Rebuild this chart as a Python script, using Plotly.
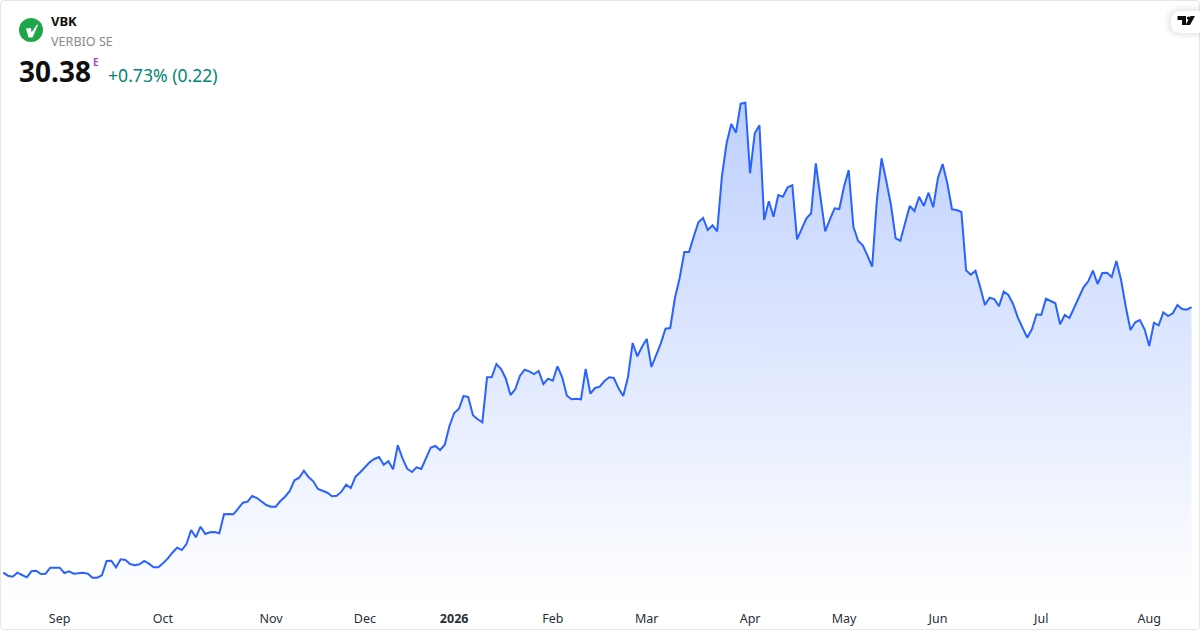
import plotly.graph_objects as go

# closing prices, one per trading day
prices = [
    3.83, 3.53, 3.43, 3.83, 3.60, 3.37, 3.97, 4.03, 3.70, 3.73, 4.33, 4.30, 4.33, 3.80, 3.97, 3.73, 3.80, 3.83, 3.73, 3.33,
    3.33, 3.57, 5.00, 5.03, 4.37, 5.17, 5.10, 4.70, 4.57, 4.67, 5.00, 4.73, 4.37, 4.37, 4.77, 5.23, 5.83, 6.33, 6.10, 6.70,
    8.10, 7.37, 8.43, 7.70, 7.87, 7.90, 7.77, 9.67, 9.70, 9.67, 10.23, 10.83, 10.93, 11.50, 11.30, 10.97, 10.60, 10.43, 10.43, 11.00,
    11.43, 12.00, 13.07, 13.33, 14.03, 13.40, 12.97, 12.20, 12.00, 11.83, 11.47, 11.53, 11.93, 12.63, 12.30, 13.43, 13.87, 14.33, 14.87, 15.20,
    15.40, 14.63, 14.97, 14.17, 16.57, 15.27, 14.23, 13.90, 14.37, 14.20, 15.30, 16.33, 16.50, 16.10, 16.63, 18.50, 19.80, 20.20, 21.50, 21.40,
    19.57, 19.17, 18.87, 23.37, 23.40, 24.70, 24.20, 23.23, 21.60, 22.17, 23.50, 24.13, 23.97, 23.70, 24.00, 22.70, 23.23, 23.03, 24.47, 23.37,
    21.53, 21.17, 21.23, 21.17, 24.20, 21.73, 22.30, 22.43, 23.00, 23.37, 23.30, 22.27, 21.50, 23.37, 26.80, 25.47, 26.43, 27.20, 24.40, 25.53,
    26.77, 28.23, 28.30, 31.30, 33.27, 35.90, 35.90, 37.43, 38.87, 39.30, 38.10, 38.57, 37.97, 43.43, 46.77, 48.70, 47.83, 50.73, 50.83, 43.77,
    47.77, 48.57, 39.10, 40.97, 39.43, 41.60, 41.43, 42.37, 42.57, 37.17, 38.27, 39.27, 39.77, 44.77, 41.37, 37.97, 39.17, 40.27, 40.20, 42.43,
    44.10, 38.43, 37.03, 36.57, 35.53, 34.43, 41.10, 45.27, 43.03, 40.60, 37.27, 37.03, 38.77, 40.50, 40.00, 41.43, 40.50, 41.83, 40.37, 43.30,
    44.70, 42.77, 40.17, 40.10, 39.90, 34.07, 33.63, 34.03, 32.37, 30.60, 31.33, 31.20, 30.47, 31.93, 31.60, 30.70, 29.37, 28.43, 27.33, 28.17,
    29.67, 29.60, 31.23, 31.00, 30.77, 28.67, 29.60, 29.30, 30.37, 31.43, 32.37, 32.97, 34.03, 32.70, 33.80, 33.83, 33.40, 35.00, 33.10, 30.43,
    28.10, 28.87, 29.10, 28.17, 26.50, 28.83, 28.57, 29.87, 29.50, 29.77, 30.60, 30.20, 30.13, 30.38,
]
days = list(range(len(prices)))

# first trading day of each month
tick_days = [12, 34, 57, 77, 96, 117, 137, 159, 179, 199, 221, 244]
tick_labels = ["Sep", "Oct", "Nov", "Dec", "<b>2026</b>", "Feb", "Mar", "Apr", "May", "Jun", "Jul", "Aug"]

W = 1200
H = 630
BOTTOM = 27
FONT = "Noto Sans, Open Sans, sans-serif"


# paper coordinates from pixel positions, for the header furniture
def px(x):
    return x / W


def py(y):
    return (H - BOTTOM - y) / (H - BOTTOM)


def polygon(points):
    cmds = [f"{'M' if i == 0 else 'L'} {px(x)} {py(y)}" for i, (x, y) in enumerate(points)]
    return " ".join(cmds) + " Z"


fig = go.Figure()
fig.add_trace(go.Scatter(
    x=days,
    y=prices,
    mode="lines",
    line=dict(color="#2962ff", width=2),
    fill="tozeroy",
    fillgradient=dict(
        type="vertical",
        colorscale=[[0, "rgba(41,98,255,0)"], [1, "rgba(41,98,255,0.3)"]],
        start=0.8,
        stop=51,
    ),
    hoverinfo="skip",
    showlegend=False,
))

fig.update_layout(
    width=W,
    height=H,
    margin=dict(l=0, r=0, t=0, b=BOTTOM),
    paper_bgcolor="white",
    plot_bgcolor="white",
    font=dict(family=FONT, color="#131722", size=12),
    xaxis=dict(
        range=[-0.7, 254.8],
        tickmode="array",
        tickvals=tick_days,
        ticktext=tick_labels,
        showgrid=False,
        zeroline=False,
        showline=False,
        ticks="",
        ticklabelstandoff=6,
        tickfont=dict(size=12.5, color="#2a2e39"),
    ),
    yaxis=dict(range=[0.8, 61.1], visible=False),
)

# card border, rounded corners
fig.add_shape(type="path", xref="paper", yref="paper",
              path=(f"M {px(4)} {py(0.5)} L {px(1196)} {py(0.5)} Q {px(1199.5)} {py(0.5)} {px(1199.5)} {py(4)} "
                    f"L {px(1199.5)} {py(626)} Q {px(1199.5)} {py(629.5)} {px(1196)} {py(629.5)} "
                    f"L {px(4)} {py(629.5)} Q {px(0.5)} {py(629.5)} {px(0.5)} {py(626)} "
                    f"L {px(0.5)} {py(4)} Q {px(0.5)} {py(0.5)} {px(4)} {py(0.5)} Z"),
              line=dict(color="#e6e6e6", width=1), fillcolor="rgba(0,0,0,0)")

# logo
fig.add_shape(type="circle", xref="paper", yref="paper", x0=px(19), x1=px(43), y0=py(42), y1=py(18),
              fillcolor="#1fa64a", line_width=0)
fig.add_shape(type="path", xref="paper", yref="paper",
              path=polygon([(26, 28.5), (31, 28), (31.5, 32.5), (37, 24.5), (38, 25), (32.5, 37.5), (28.5, 37.5)]),
              fillcolor="white", line_width=0)

# tradingview badge
for grow, alpha in [(6, 0.015), (4, 0.02), (2, 0.03)]:
    fig.add_shape(type="path", xref="paper", yref="paper",
                  path=f"M {px(1200)} {py(11 - grow)} L {px(1181)} {py(11 - grow)} Q {px(1170 - grow)} {py(11 - grow)} {px(1170 - grow)} {py(22)} Q {px(1170 - grow)} {py(33 + grow)} {px(1181)} {py(33 + grow)} L {px(1200)} {py(33 + grow)} Z",
                  fillcolor=f"rgba(0,0,0,{alpha})", line_width=0)
fig.add_shape(type="path", xref="paper", yref="paper",
              path=f"M {px(1200)} {py(11)} L {px(1181)} {py(11)} Q {px(1171)} {py(11)} {px(1171)} {py(22)} Q {px(1171)} {py(33)} {px(1181)} {py(33)} L {px(1200)} {py(33)} Z",
              fillcolor="white", line_width=0)
fig.add_shape(type="path", xref="paper", yref="paper",
              path=polygon([(1177.5, 16), (1186, 16), (1186, 25), (1182, 25), (1182, 20), (1177.5, 20)]),
              fillcolor="#0f0f0f", line_width=0)
fig.add_shape(type="circle", xref="paper", yref="paper", x0=px(1186.8), x1=px(1190.2), y0=py(19.8), y1=py(16.4),
              fillcolor="#0f0f0f", line_width=0)
fig.add_shape(type="path", xref="paper", yref="paper",
              path=polygon([(1190.5, 16), (1195, 16), (1190, 25), (1185.5, 25)]),
              fillcolor="#0f0f0f", line_width=0)

# header texts
header = [
    ("VBK", 51, 21, 13, "#0f0f0f", True),
    ("VERBIO SE", 51, 41, 12.6, "#8a8a8a", False),
    ("30.38", 19, 71, 28, "#0f0f0f", True),
    ("E", 93, 62, 10, "#ab47bc", True),
    ("+0.73% (0.22)", 108, 74.5, 17.6, "#008573", False),
]
for text, x, y, size, color, bold in header:
    fig.add_annotation(
        xref="paper", yref="paper", x=px(x), y=py(y),
        text=f"<b>{text}</b>" if bold else text,
        showarrow=False, xanchor="left", yanchor="middle",
        borderpad=0, borderwidth=0,
        font=dict(family=FONT, size=size, color=color),
    )

# drop the default page margin so the chart fills the window
fig.write_html("out.html", config=dict(displayModeBar=False),
               post_script="document.body.style.margin='0';document.body.style.overflow='hidden';")
